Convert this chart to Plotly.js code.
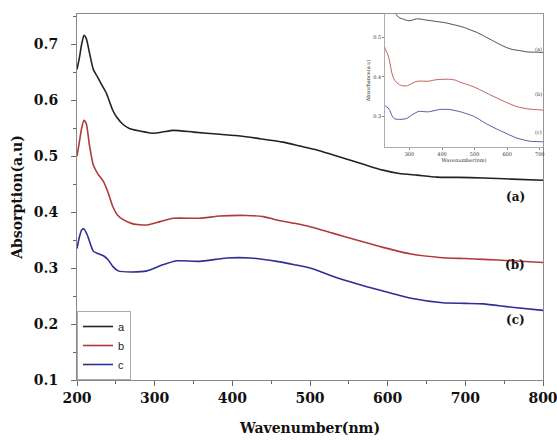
<!DOCTYPE html>
<html>
<head>
<meta charset="utf-8">
<script src="https://cdn.plot.ly/plotly-3.0.1.min.js"></script>
<style>
html,body{margin:0;padding:0;background:#fff;}
#chart{width:557px;height:441px;}
</style>
</head>
<body>
<div id="chart"></div>
<script>
// Curve (a) – black
const xA = [200,203,206,209,212,216,221,227,232,238,246,252,259,268,281,298,310,324,350,384,410,436,465,487,509,530,551,572,594,615,638,663,690,723,760,800];
const yA = [0.655,0.675,0.700,0.716,0.710,0.685,0.655,0.640,0.627,0.612,0.582,0.568,0.557,0.549,0.545,0.541,0.543,0.546,0.543,0.539,0.536,0.531,0.525,0.518,0.511,0.502,0.493,0.484,0.475,0.469,0.466,0.4625,0.462,0.461,0.459,0.457];
// Curve (b) – red
const xB = [200,203,206,209,212,216,221,227,234,240,246,252,259,272,290,307,324,358,384,419,440,457,480,500,530,560,594,630,667,700,723,760,800];
const yB = [0.500,0.525,0.550,0.564,0.558,0.520,0.484,0.468,0.455,0.435,0.410,0.395,0.387,0.379,0.377,0.383,0.389,0.389,0.393,0.394,0.392,0.386,0.380,0.374,0.362,0.350,0.337,0.325,0.319,0.317,0.3156,0.313,0.310];
// Curve (c) – blue
const xC = [200,203,206,209,213,218,221,227,234,240,246,253,270,290,307,328,358,393,423,457,480,500,530,560,594,630,671,700,723,760,800];
const yC = [0.335,0.355,0.368,0.370,0.360,0.340,0.330,0.326,0.322,0.315,0.303,0.295,0.293,0.295,0.304,0.313,0.312,0.318,0.318,0.312,0.306,0.300,0.285,0.272,0.259,0.246,0.238,0.237,0.236,0.230,0.2245];

const names = ['a','b','c'];
const colors = ['#222222','#b03a3a','#2e2e94'];
const labels = ['(a)','(b)','(c)'];
const labelX = [764,764,764];
const labelY = [0.427,0.305,0.207];
const insetLabelY = [0.47,0.357,0.262];

const xs=[xA,xB,xC], ys=[yA,yB,yC];
const serif = 'DejaVu Serif, Liberation Serif, serif';

const traces = [];
for (let i=0;i<3;i++){
  traces.push({x:xs[i], y:ys[i], name:names[i], type:'scatter', mode:'lines',
    line:{color:colors[i], width:1.6, shape:'spline', smoothing:0.6}, xaxis:'x', yaxis:'y'});
}
for (let i=0;i<3;i++){
  traces.push({x:xs[i], y:ys[i], name:names[i], type:'scatter', mode:'lines', showlegend:false,
    line:{color:colors[i], width:0.8, shape:'spline', smoothing:0.6}, xaxis:'x2', yaxis:'y2'});
}

const annotations = [];
for (let i=0;i<3;i++){
  annotations.push({x:labelX[i], y:labelY[i], xref:'x', yref:'y', text:labels[i], showarrow:false,
    font:{family:serif, size:12, color:'#111', weight:'bold'}});
  annotations.push({x:695, y:insetLabelY[i], xref:'x2', yref:'y2', text:labels[i], showarrow:false,
    font:{family:serif, size:5, color:'#333'}});
}

const layout = {
  width:557, height:441,
  margin:{l:77, r:14, t:14, b:61},
  paper_bgcolor:'#fff', plot_bgcolor:'#fff',
  showlegend:true,
  legend:{x:0, y:0, xanchor:'left', yanchor:'bottom', bgcolor:'#fff', bordercolor:'#aaa', borderwidth:1,
    font:{family:'Liberation Sans, Arial, sans-serif', size:11, color:'#222'}, tracegroupgap:0, itemwidth:30},
  xaxis:{range:[200,800], dtick:100, tick0:200, showgrid:false, zeroline:false,
    showline:true, linecolor:'#888', linewidth:1, mirror:true,
    ticks:'outside', ticklen:5, tickcolor:'#666', ticklabeloverflow:'allow',
    minor:{dtick:50, ticks:'outside', ticklen:3, tickcolor:'#666'},
    tickfont:{family:serif, size:14, color:'#111', weight:'bold'},
    title:{text:'Wavenumber(nm)', font:{family:serif, size:14, color:'#111', weight:'bold'}, standoff:18}},
  yaxis:{range:[0.1,0.754], dtick:0.1, tick0:0.1, tickformat:'.1f', showgrid:false, zeroline:false,
    showline:true, linecolor:'#888', linewidth:1, mirror:true,
    ticks:'outside', ticklen:5, tickcolor:'#666', ticklabelstandoff:10,
    minor:{dtick:0.05, ticks:'outside', ticklen:3, tickcolor:'#666'},
    tickfont:{family:serif, size:14, color:'#111', weight:'bold'},
    title:{text:'Absorption(a.u)', font:{family:serif, size:14, color:'#111', weight:'bold'}, standoff:7}},
  xaxis2:{domain:[0.661,1], anchor:'y2', range:[225,710], dtick:100, tick0:300, showgrid:false, zeroline:false,
    showline:true, linecolor:'#999', linewidth:0.8, mirror:true, ticks:'outside', ticklen:2, tickcolor:'#888',
    tickfont:{family:serif, size:5, color:'#333'},
    title:{text:'Wavenumber(nm)', font:{family:serif, size:5, color:'#333'}, standoff:2}},
  yaxis2:{domain:[0.637,1], anchor:'x2', range:[0.224,0.558], dtick:0.1, tick0:0.3, tickformat:'.1f', showgrid:false, zeroline:false,
    showline:true, linecolor:'#999', linewidth:0.8, mirror:true, ticks:'outside', ticklen:2, tickcolor:'#888',
    tickfont:{family:serif, size:5, color:'#333'},
    title:{text:'Absorbance(a.u)', font:{family:serif, size:5, color:'#333'}, standoff:2}},
  annotations:annotations
};

Plotly.newPlot('chart', traces, layout, {displayModeBar:false, staticPlot:true});
</script>
</body>
</html>
